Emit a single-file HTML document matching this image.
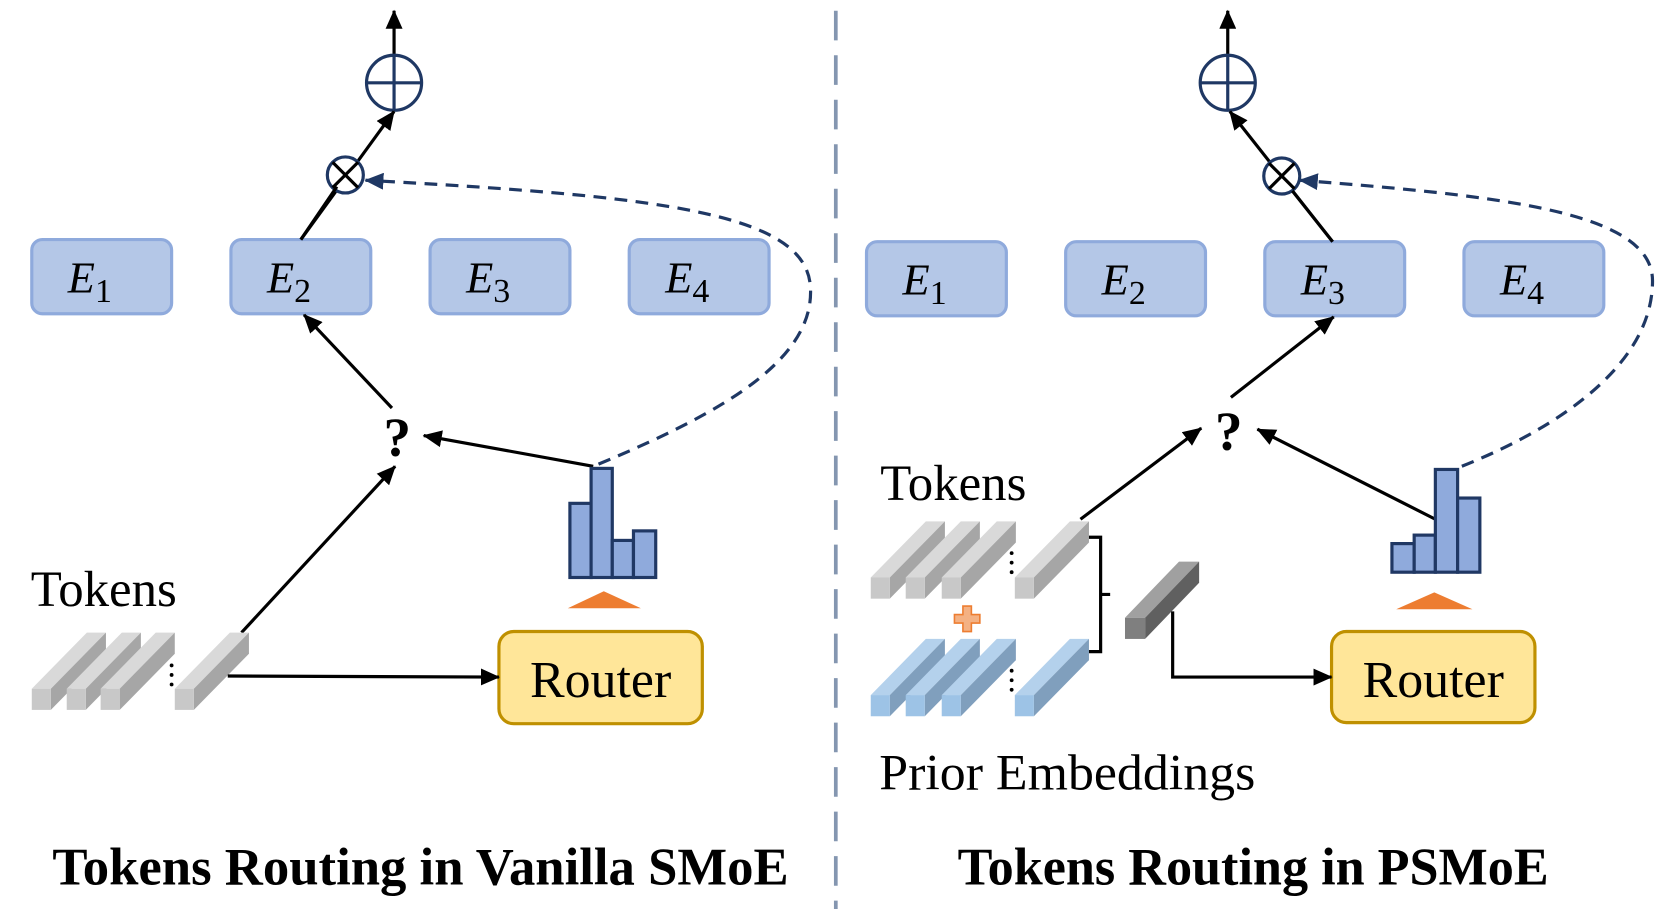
<!DOCTYPE html>
<html><head><meta charset="utf-8"><style>
html,body{margin:0;padding:0;background:#fff;}
svg{display:block;}
text{font-family:"Liberation Serif",serif;}
</style></head><body>
<svg width="1661" height="923" viewBox="0 0 1568 871" xmlns="http://www.w3.org/2000/svg">
<defs>
<marker id="ab" markerWidth="18" markerHeight="16" refX="17" refY="8" orient="auto" markerUnits="userSpaceOnUse" viewBox="0 0 18 16"><path d="M0,0 L18,8 L0,16 z" fill="#000"/></marker>
<marker id="an" markerWidth="18" markerHeight="16" refX="17" refY="8" orient="auto" markerUnits="userSpaceOnUse" viewBox="0 0 18 16"><path d="M0,0 L18,8 L0,16 z" fill="#1f3864"/></marker>
<g id="tg">
<polygon points="0,-20 18,-20 70,-73 52,-73" fill="#d9d9d9"/>
<polygon points="18,-20 70,-73 70,-53 18,0" fill="#a6a6a6"/>
<rect x="0" y="-20" width="18" height="20" fill="#c8c8c8"/>
</g>
<g id="tb">
<polygon points="0,-20 18,-20 70,-73 52,-73" fill="#b4d1ec"/>
<polygon points="18,-20 70,-73 70,-53 18,0" fill="#809fbd"/>
<rect x="0" y="-20" width="18" height="20" fill="#9dc3e6"/>
</g>
</defs>

<line x1="789" y1="10" x2="789" y2="858" stroke="#8496b0" stroke-width="3.5" stroke-dasharray="28,14"/>

<g fill="#b4c7e7" stroke="#8faadc" stroke-width="3">
<rect x="30" y="226" width="132" height="70" rx="10"/>
<rect x="218" y="226" width="132" height="70" rx="10"/>
<rect x="406" y="226" width="132" height="70" rx="10"/>
<rect x="594" y="226" width="132" height="70" rx="10"/>
<rect x="818" y="228" width="132" height="70" rx="10"/>
<rect x="1006" y="228" width="132" height="70" rx="10"/>
<rect x="1194" y="228" width="132" height="70" rx="10"/>
<rect x="1382" y="228" width="132" height="70" rx="10"/>
</g>
<g font-size="42" font-style="italic" fill="#000">
<text x="64" y="276">E<tspan font-style="normal" font-size="32" dy="9">1</tspan></text>
<text x="252" y="276">E<tspan font-style="normal" font-size="32" dy="9">2</tspan></text>
<text x="440" y="276">E<tspan font-style="normal" font-size="32" dy="9">3</tspan></text>
<text x="628" y="276">E<tspan font-style="normal" font-size="32" dy="9">4</tspan></text>
<text x="852" y="278">E<tspan font-style="normal" font-size="32" dy="9">1</tspan></text>
<text x="1040" y="278">E<tspan font-style="normal" font-size="32" dy="9">2</tspan></text>
<text x="1228" y="278">E<tspan font-style="normal" font-size="32" dy="9">3</tspan></text>
<text x="1416" y="278">E<tspan font-style="normal" font-size="32" dy="9">4</tspan></text>
</g>

<line x1="372" y1="51" x2="372" y2="10" stroke="#000" stroke-width="3" marker-end="url(#ab)"/>
<circle cx="372" cy="78" r="26" fill="none" stroke="#1f3864" stroke-width="3"/>
<line x1="346" y1="78" x2="398" y2="78" stroke="#1f3864" stroke-width="3"/>
<line x1="372" y1="52" x2="372" y2="104" stroke="#1f3864" stroke-width="3"/>
<line x1="284" y1="226" x2="372" y2="105" stroke="#000" stroke-width="3" marker-end="url(#ab)"/>
<circle cx="326" cy="165" r="17" fill="#fff" stroke="#1f3864" stroke-width="3"/>
<line x1="314" y1="153" x2="338" y2="177" stroke="#000" stroke-width="3"/>
<line x1="338" y1="153" x2="314" y2="177" stroke="#000" stroke-width="3"/>
<line x1="318" y1="176" x2="284" y2="226" stroke="#000" stroke-width="3"/>
<path d="M565,438 C680,390 770,340 765,270 C760,200 620,185 345,170" fill="none" stroke="#1f3864" stroke-width="3" stroke-dasharray="12,8" marker-end="url(#an)"/>

<text x="375" y="430" font-size="52" font-weight="bold" text-anchor="middle">?</text>
<line x1="560" y1="440" x2="400" y2="411" stroke="#000" stroke-width="3" marker-end="url(#ab)"/>
<line x1="370" y1="385" x2="287" y2="297" stroke="#000" stroke-width="3" marker-end="url(#ab)"/>
<line x1="228" y1="597" x2="373" y2="440" stroke="#000" stroke-width="3" marker-end="url(#ab)"/>

<g fill="#8faadc" stroke="#203864" stroke-width="3">
<rect x="538" y="475" width="20" height="70"/>
<rect x="558" y="442" width="20" height="103"/>
<rect x="578" y="510" width="20" height="35"/>
<rect x="598" y="501" width="21" height="44"/>
</g>
<polygon points="536,574 605,574 570,558" fill="#ed7d31"/>

<rect x="471" y="596" width="192" height="87" rx="14" fill="#ffe699" stroke="#bf9000" stroke-width="3"/>
<text x="567" y="658" font-size="49" text-anchor="middle">Router</text>
<text x="29" y="572" font-size="48">Tokens</text>

<use href="#tg" x="30" y="670"/>
<use href="#tg" x="63" y="670"/>
<use href="#tg" x="95" y="670"/>
<use href="#tg" x="165" y="670"/>
<g fill="#000"><circle cx="162" cy="628" r="1.8"/><circle cx="162" cy="637" r="1.8"/><circle cx="162" cy="646" r="1.8"/></g>
<line x1="215" y1="638" x2="471" y2="639" stroke="#000" stroke-width="3" marker-end="url(#ab)"/>

<text x="397" y="835" font-size="50" font-weight="bold" text-anchor="middle" textLength="695" lengthAdjust="spacingAndGlyphs">Tokens Routing in Vanilla SMoE</text>

<line x1="1159" y1="51" x2="1159" y2="10" stroke="#000" stroke-width="3" marker-end="url(#ab)"/>
<circle cx="1159" cy="78" r="26" fill="none" stroke="#1f3864" stroke-width="3"/>
<line x1="1133" y1="78" x2="1185" y2="78" stroke="#1f3864" stroke-width="3"/>
<line x1="1159" y1="52" x2="1159" y2="104" stroke="#1f3864" stroke-width="3"/>
<line x1="1258" y1="228" x2="1161" y2="105" stroke="#000" stroke-width="3" marker-end="url(#ab)"/>
<circle cx="1210" cy="166" r="17" fill="#fff" stroke="#1f3864" stroke-width="3"/>
<line x1="1198" y1="154" x2="1222" y2="178" stroke="#000" stroke-width="3"/>
<line x1="1222" y1="154" x2="1198" y2="178" stroke="#000" stroke-width="3"/>
<line x1="1220" y1="180" x2="1258" y2="228" stroke="#000" stroke-width="3"/>
<path d="M1380,440 C1480,400 1560,340 1560,265 C1560,200 1420,185 1227,170" fill="none" stroke="#1f3864" stroke-width="3" stroke-dasharray="12,8" marker-end="url(#an)"/>

<text x="1160" y="424" font-size="52" font-weight="bold" text-anchor="middle">?</text>
<line x1="1020" y1="490" x2="1134" y2="404" stroke="#000" stroke-width="3" marker-end="url(#ab)"/>
<line x1="1355" y1="490" x2="1187" y2="405" stroke="#000" stroke-width="3" marker-end="url(#ab)"/>
<line x1="1162" y1="375" x2="1259" y2="299" stroke="#000" stroke-width="3" marker-end="url(#ab)"/>

<g fill="#8faadc" stroke="#203864" stroke-width="3">
<rect x="1314" y="513" width="21" height="27"/>
<rect x="1335" y="505" width="20" height="35"/>
<rect x="1355" y="443" width="21" height="97"/>
<rect x="1376" y="470" width="21" height="70"/>
</g>
<polygon points="1318,575 1390,575 1354,559" fill="#ed7d31"/>

<rect x="1257" y="596" width="192" height="86" rx="14" fill="#ffe699" stroke="#bf9000" stroke-width="3"/>
<text x="1353" y="658" font-size="49" text-anchor="middle">Router</text>
<text x="831" y="472" font-size="48">Tokens</text>

<use href="#tg" x="822" y="565"/>
<use href="#tg" x="855" y="565"/>
<use href="#tg" x="889" y="565"/>
<use href="#tg" x="958" y="565"/>
<g fill="#000"><circle cx="955" cy="522" r="1.8"/><circle cx="955" cy="531" r="1.8"/><circle cx="955" cy="540" r="1.8"/></g>
<use href="#tb" x="822" y="676"/>
<use href="#tb" x="855" y="676"/>
<use href="#tb" x="889" y="676"/>
<use href="#tb" x="958" y="676"/>
<g fill="#000"><circle cx="955" cy="633" r="1.8"/><circle cx="955" cy="642" r="1.8"/><circle cx="955" cy="651" r="1.8"/></g>
<path d="M909,572 h8 v8 h8 v8 h-8 v8 h-8 v-8 h-8 v-8 h8 z" fill="#f4b183" stroke="#ed7d31" stroke-width="1.5"/>
<path d="M1028,507 H1039 V615 H1028 M1039,561 H1048" fill="none" stroke="#000" stroke-width="3"/>

<polygon points="1062,583 1081,583 1132,530 1113,530" fill="#a0a0a0"/>
<polygon points="1081,583 1132,530 1132,550 1081,603" fill="#606060"/>
<rect x="1062" y="583" width="19" height="20" fill="#7f7f7f"/>
<polyline points="1107,577 1107,639 1257,639" fill="none" stroke="#000" stroke-width="3" marker-end="url(#ab)"/>

<text x="830" y="745" font-size="48" textLength="355" lengthAdjust="spacingAndGlyphs">Prior Embeddings</text>
<text x="1183" y="835" font-size="50" font-weight="bold" text-anchor="middle" textLength="558" lengthAdjust="spacingAndGlyphs">Tokens Routing in PSMoE</text>
</svg>
</body></html>
